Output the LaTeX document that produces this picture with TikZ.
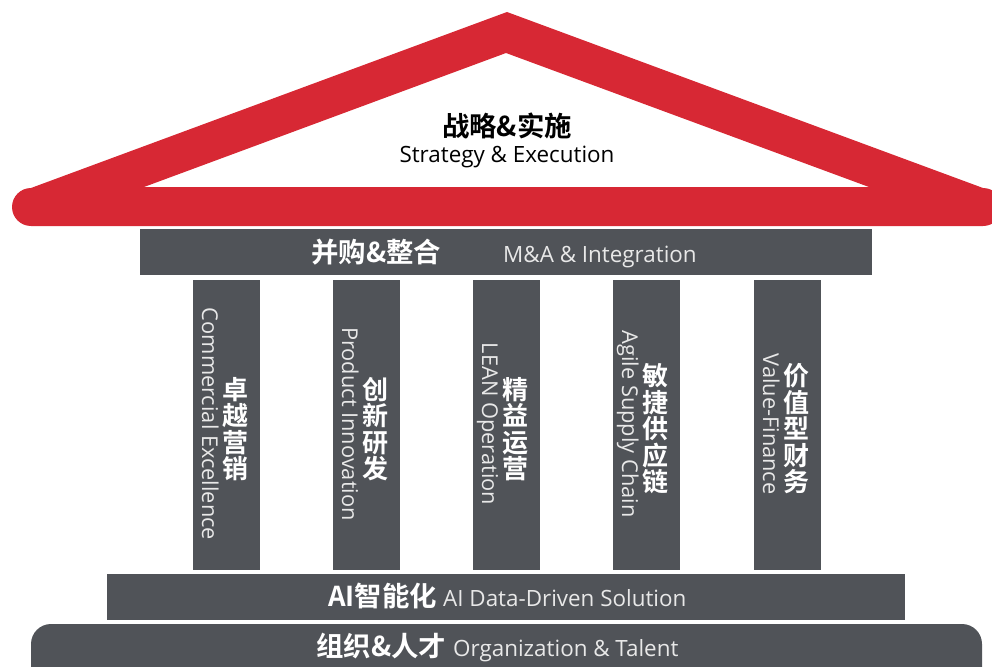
\documentclass[tikz,border=0pt]{standalone}
\usepackage{fontspec}
\setmainfont{Open Sans}
\newfontfamily\cjk{Noto Sans CJK SC Bold}
\definecolor{roofred}{RGB}{215,40,52}
\definecolor{pgray}{RGB}{80,83,88}
\definecolor{entext}{RGB}{232,232,232}
\tikzset{
  slab/.style={fill=pgray, draw=none, inner sep=0pt, outer sep=0pt},
  zh/.style={font=\cjk\fontsize{27.4}{27.4}\selectfont, inner sep=0pt},
  en/.style={font=\fontsize{22.4}{22.4}\selectfont, inner sep=0pt},
  zhcol/.style={inner sep=0pt, text=white, align=center, font=\cjk\fontsize{26}{26.5}\selectfont},
  encol/.style={inner sep=0pt, font=\fontsize{21.8}{21.8}\selectfont, text=entext, rotate=-90, anchor=base},
}
\begin{document}
\begin{tikzpicture}[x=1pt,y=-1pt]
\useasboundingbox (0,0) rectangle (992,666);
\begin{scope}
\clip (0,0) rectangle (992,666);
% roof
\fill[roofred, even odd rule]
  (31,226) arc (90:270:19) -- (507,12) -- (983,188) arc (-90:90:19) -- cycle
  (144,187) -- (506,53) -- (869,187) -- cycle;
\node[zh, anchor=base, text=black] (roofzh) at (507,136) {战略\&实施};
\node[en, anchor=base, text=black] (roofen) at (507,162) {Strategy \& Execution};
% beam
\node[slab, minimum width=732pt, minimum height=46pt] (beam) at (506,252) {};
\node[zh, anchor=base west, text=white] (beamzh) at (311,262) {并购\&整合};
\node[en, anchor=base west, text=entext] (beamen) at (503,262) {M\&A \& Integration};
% pillars
\foreach \i/\l/\zhtext/\entxt in {
  1/193/{卓\\越\\营\\销}/{Commercial Excellence},
  2/333/{创\\新\\研\\发}/{Product Innovation},
  3/473/{精\\益\\运\\营}/{LEAN Operation},
  4/613/{敏\\捷\\供\\应\\链}/{Agile Supply Chain},
  5/754/{价\\值\\型\\财\\务}/{Value-Finance}}{
  \node[slab, minimum width=67pt, minimum height=290pt] (p\i) at (\l+33.5,425) {};
  \node[zhcol] (pzh\i) at (\l+42,429) {\zhtext};
  \node[encol] (pen\i) at (\l+9,424) {\entxt};
}
% AI band
\node[slab, minimum width=798pt, minimum height=46pt] (ai) at (506,597) {};
\node[zh, anchor=base west, text=white] (aizh) at (328,606) {AI智能化};
\node[en, anchor=base west, text=entext] (aien) at (443,606) {AI Data-Driven Solution};
% base
\node[slab, rounded corners=20pt, minimum width=951pt, minimum height=80pt] (base) at (506.5,664) {};
\node[zh, anchor=base west, text=white] (basezh) at (316,656) {组织\&人才};
\node[en, anchor=base west, text=entext] (baseen) at (453,656) {Organization \& Talent};
\end{scope}
\end{tikzpicture}
\end{document}
